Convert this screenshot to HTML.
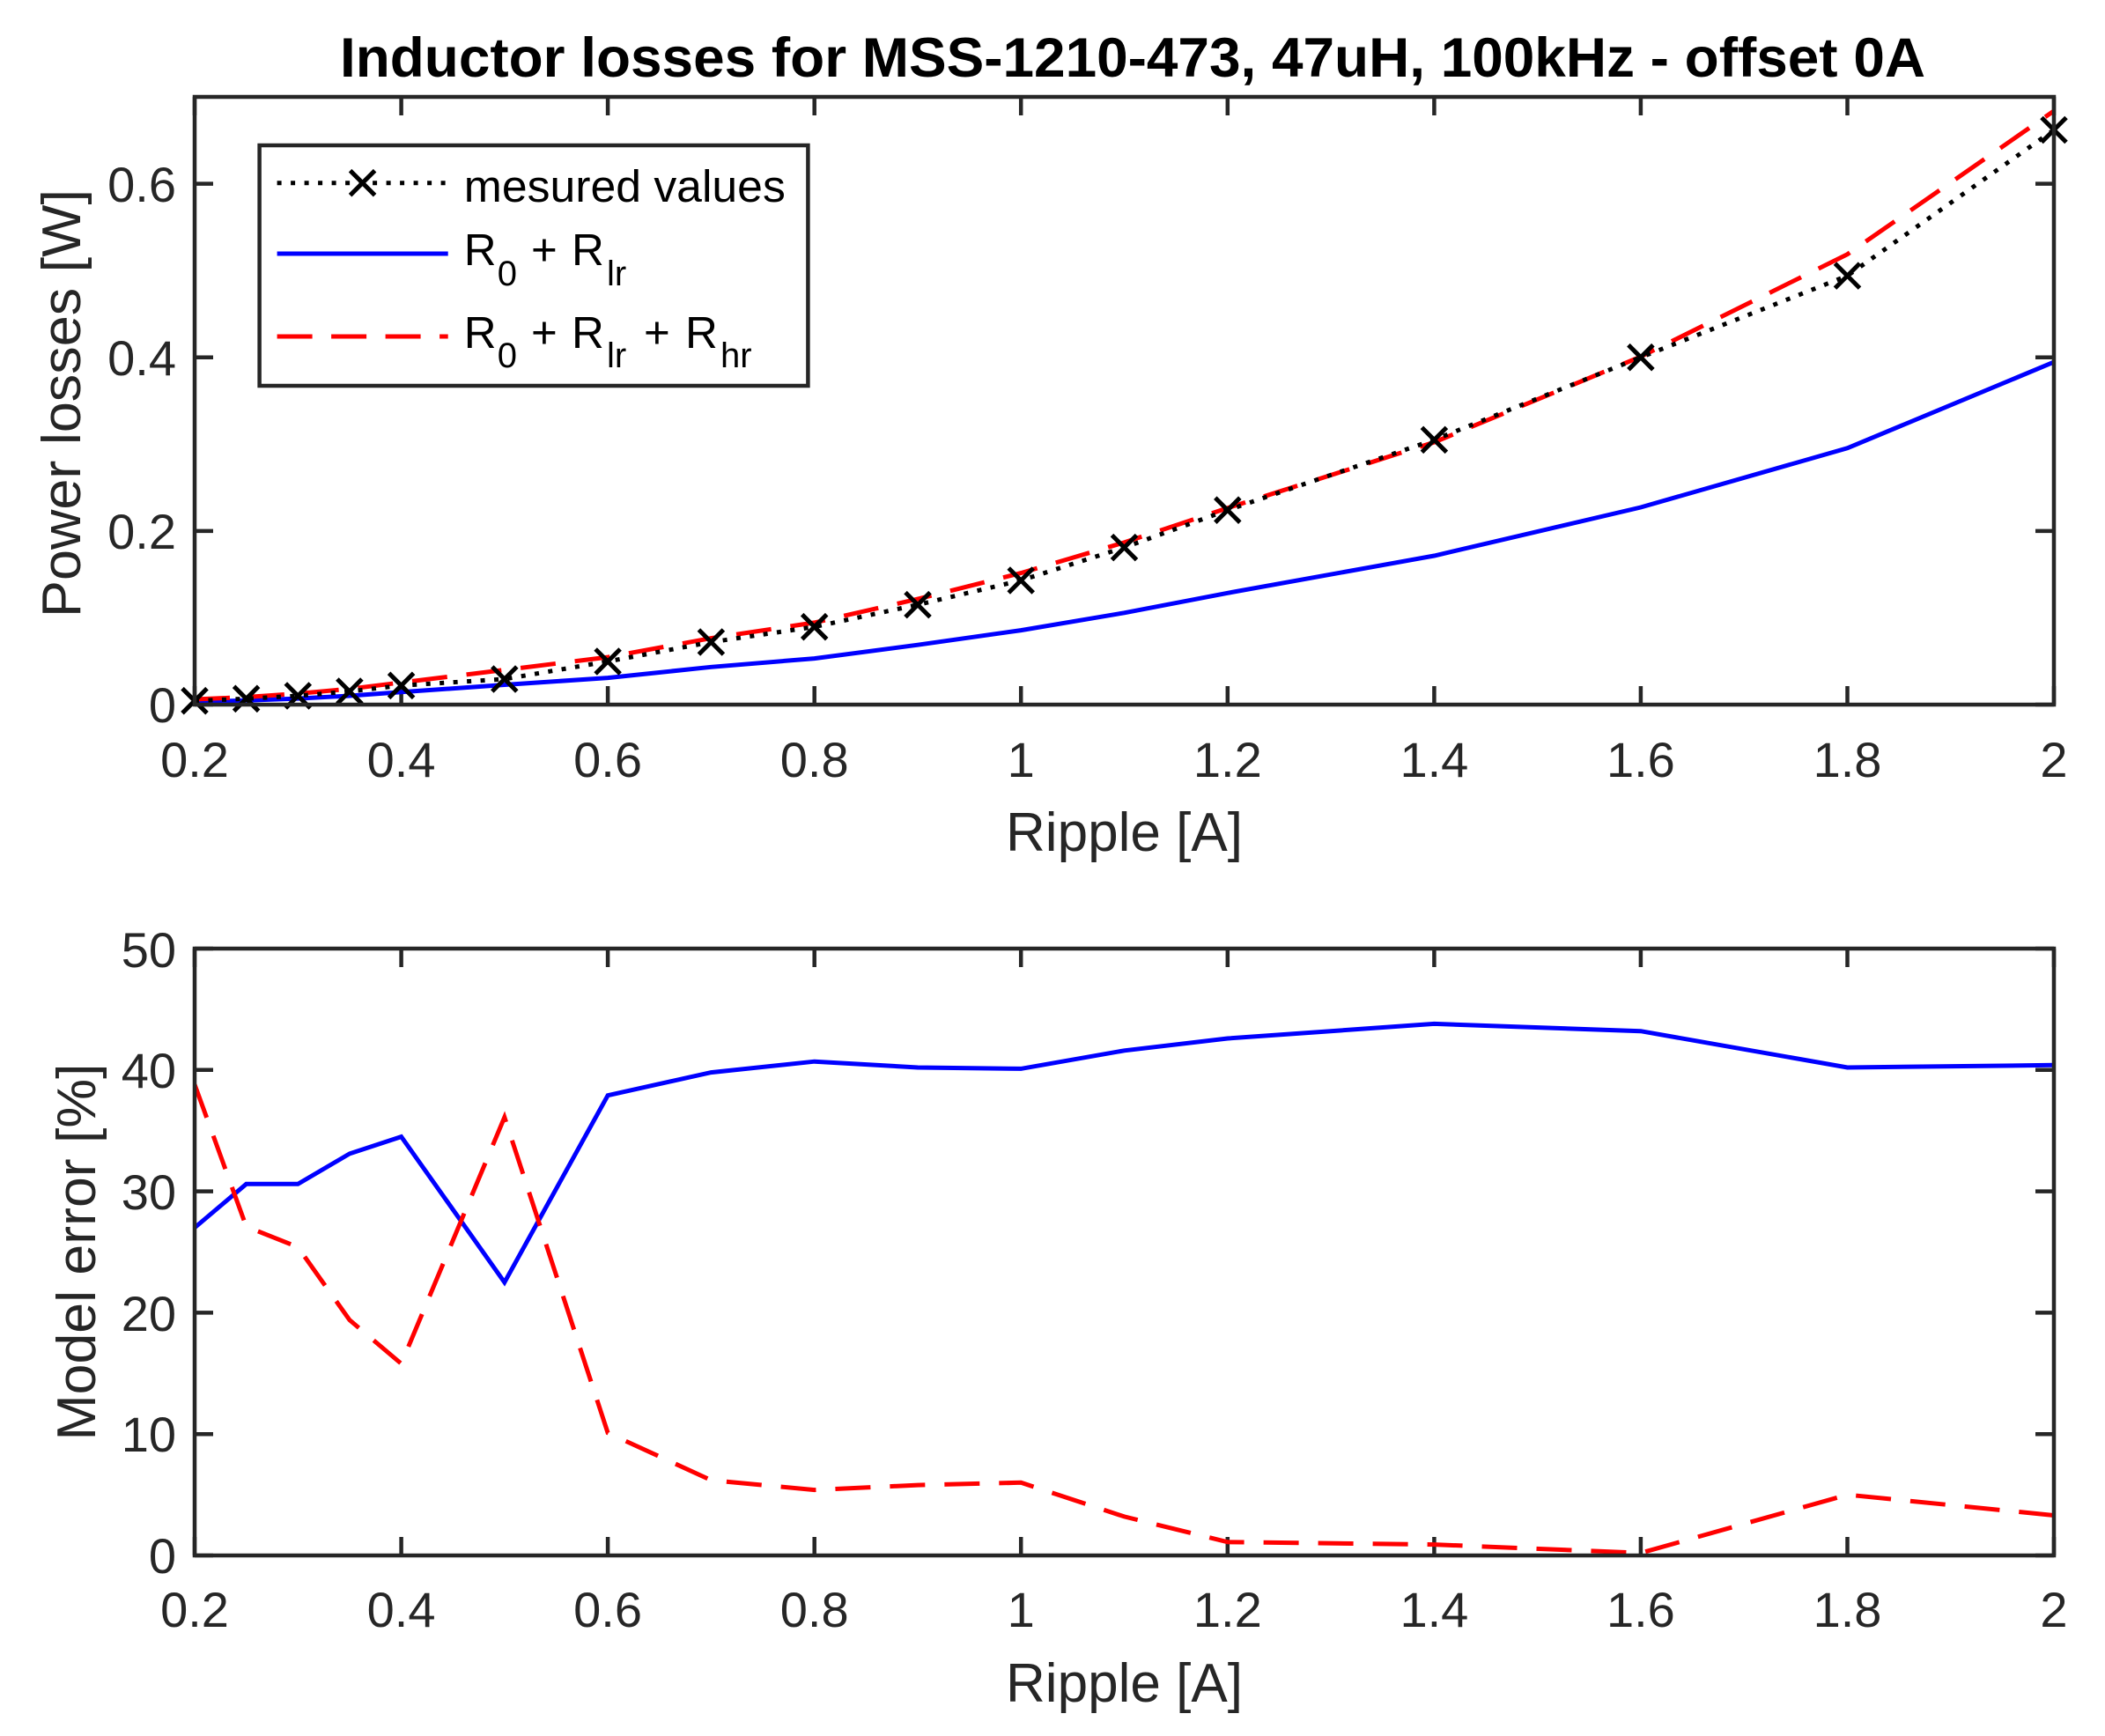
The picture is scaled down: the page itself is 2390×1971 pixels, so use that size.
<!DOCTYPE html>
<html>
<head>
<meta charset="utf-8">
<style>
  html, body { margin: 0; padding: 0; background: #ffffff; }
  svg { display: block; }
  text { font-family: "Liberation Sans", Arial, sans-serif; }
</style>
</head>
<body>
<svg xmlns="http://www.w3.org/2000/svg" width="2390" height="1971" viewBox="0 0 2390 1971">
  <defs>
    <clipPath id="c1"><rect x="221" y="110" width="2111" height="690"/></clipPath>
    <clipPath id="c2"><rect x="221" y="1077" width="2111" height="689"/></clipPath>
    <path id="mk" d="M-14,-14 L14,14 M-14,14 L14,-14" stroke="#000" stroke-width="5" fill="none"/>
  </defs>
  <rect width="2390" height="1971" fill="#fff"/>

  <!-- Title -->
  <text x="386" y="87" font-size="63" font-weight="bold" fill="#000" textLength="1800" lengthAdjust="spacingAndGlyphs">Inductor losses for MSS-1210-473, 47uH, 100kHz - offset 0A</text>

  <!-- ============ TOP AXES ============ -->
  <g stroke="#262626" stroke-width="4.5" fill="none">
    <path d="M221,800V779 M455.6,800V779 M690.1,800V779 M924.7,800V779 M1159.2,800V779 M1393.8,800V779 M1628.4,800V779 M1862.9,800V779 M2097.5,800V779 M2332,800V779
             M221,110V131 M455.6,110V131 M690.1,110V131 M924.7,110V131 M1159.2,110V131 M1393.8,110V131 M1628.4,110V131 M1862.9,110V131 M2097.5,110V131 M2332,110V131"/>
    <path d="M221,800H242 M221,602.9H242 M221,405.7H242 M221,208.6H242
             M2332,800H2311 M2332,602.9H2311 M2332,405.7H2311 M2332,208.6H2311"/>
  </g>

  <g clip-path="url(#c1)" fill="none" stroke-width="5">
    <polyline stroke="#0000ff" points="221,796.8 279.6,795.3 338.3,793.1 396.9,790.0 455.6,785.8 572.8,777.5 690.1,769.6 807.4,757.3 924.7,747.6 1042,732.2 1159.2,715.6 1276.5,695.8 1393.8,673.3 1628.4,631.0 1862.9,576.0 2097.5,508.8 2332,411.1"/>
    <polyline stroke="#ff0000" stroke-dasharray="40 22" points="221,794.0 279.6,791.5 338.3,787.5 396.9,782.1 455.6,774.9 572.8,760.6 690.1,746.1 807.4,724.6 924.7,706.9 1042,680.1 1159.2,650.6 1276.5,615.9 1393.8,576.8 1628.4,502.1 1862.9,404.9 2097.5,288.7 2332,125.9"/>
    <polyline stroke="#000000" stroke-dasharray="5 10.5" points="221,795.7 279.6,793.3 338.3,790.0 396.9,785.0 455.6,778.3 572.8,771.0 690.1,751.0 807.4,729.0 924.7,711.7 1042,686.6 1159.2,659.0 1276.5,621.6 1393.8,579.2 1628.4,499.4 1862.9,405.7 2097.5,313.1 2332,147.5"/>
  </g>
  <g>
    <use href="#mk" x="221" y="795.7"/>
    <use href="#mk" x="279.6" y="793.3"/>
    <use href="#mk" x="338.3" y="790.0"/>
    <use href="#mk" x="396.9" y="785.0"/>
    <use href="#mk" x="455.6" y="778.3"/>
    <use href="#mk" x="572.8" y="771.0"/>
    <use href="#mk" x="690.1" y="751.0"/>
    <use href="#mk" x="807.4" y="729.0"/>
    <use href="#mk" x="924.7" y="711.7"/>
    <use href="#mk" x="1042" y="686.6"/>
    <use href="#mk" x="1159.2" y="659.0"/>
    <use href="#mk" x="1276.5" y="621.6"/>
    <use href="#mk" x="1393.8" y="579.2"/>
    <use href="#mk" x="1628.4" y="499.4"/>
    <use href="#mk" x="1862.9" y="405.7"/>
    <use href="#mk" x="2097.5" y="313.1"/>
    <use href="#mk" x="2332" y="147.5"/>
  </g>

  <rect x="221" y="110" width="2111" height="690" fill="none" stroke="#262626" stroke-width="4.5"/>

  <g font-size="56" fill="#262626" text-anchor="middle">
    <text x="221" y="882">0.2</text>
    <text x="455.6" y="882">0.4</text>
    <text x="690.1" y="882">0.6</text>
    <text x="924.7" y="882">0.8</text>
    <text x="1159.2" y="882">1</text>
    <text x="1393.8" y="882">1.2</text>
    <text x="1628.4" y="882">1.4</text>
    <text x="1862.9" y="882">1.6</text>
    <text x="2097.5" y="882">1.8</text>
    <text x="2332" y="882">2</text>
  </g>
  <g font-size="56" fill="#262626" text-anchor="end">
    <text x="200" y="820">0</text>
    <text x="200" y="623">0.2</text>
    <text x="200" y="426">0.4</text>
    <text x="200" y="229">0.6</text>
  </g>
  <text x="1276.5" y="966" font-size="62" fill="#262626" text-anchor="middle" textLength="269" lengthAdjust="spacingAndGlyphs">Ripple [A]</text>
  <text transform="translate(91,458) rotate(-90)" x="0" y="0" font-size="62" fill="#262626" text-anchor="middle" textLength="486" lengthAdjust="spacingAndGlyphs">Power losses [W]</text>

  <!-- Legend -->
  <rect x="294.6" y="165" width="622.8" height="273" fill="#fff" stroke="#262626" stroke-width="4.5"/>
  <line x1="314.6" y1="207.7" x2="508.7" y2="207.7" stroke="#000" stroke-width="5" stroke-dasharray="5 10.5"/>
  <use href="#mk" x="411.6" y="207.7"/>
  <line x1="314.6" y1="288" x2="508.7" y2="288" stroke="#0000ff" stroke-width="5"/>
  <line x1="314.6" y1="382" x2="508.7" y2="382" stroke="#ff0000" stroke-width="5" stroke-dasharray="40 21.5"/>
  <g fill="#000">
    <text x="526.8" y="229" font-size="51" textLength="365" lengthAdjust="spacingAndGlyphs">mesured values</text>

    <text x="526.8" y="301" font-size="51">R</text>
    <text x="564.8" y="324" font-size="40">0</text>
    <text x="603" y="301" font-size="51">+</text>
    <text x="649" y="301" font-size="51">R</text>
    <text x="689" y="324" font-size="40">lr</text>

    <text x="526.8" y="395" font-size="51">R</text>
    <text x="564.8" y="417" font-size="40">0</text>
    <text x="603" y="395" font-size="51">+</text>
    <text x="649" y="395" font-size="51">R</text>
    <text x="689" y="417" font-size="40">lr</text>
    <text x="731" y="395" font-size="51">+</text>
    <text x="778" y="395" font-size="51">R</text>
    <text x="818" y="417" font-size="40">hr</text>
  </g>

  <!-- ============ BOTTOM AXES ============ -->
  <g stroke="#262626" stroke-width="4.5" fill="none">
    <path d="M221,1766V1745 M455.6,1766V1745 M690.1,1766V1745 M924.7,1766V1745 M1159.2,1766V1745 M1393.8,1766V1745 M1628.4,1766V1745 M1862.9,1766V1745 M2097.5,1766V1745 M2332,1766V1745
             M221,1077V1098 M455.6,1077V1098 M690.1,1077V1098 M924.7,1077V1098 M1159.2,1077V1098 M1393.8,1077V1098 M1628.4,1077V1098 M1862.9,1077V1098 M2097.5,1077V1098 M2332,1077V1098"/>
    <path d="M221,1766H242 M221,1628.2H242 M221,1490.4H242 M221,1352.6H242 M221,1214.8H242 M221,1077H242
             M2332,1766H2311 M2332,1628.2H2311 M2332,1490.4H2311 M2332,1352.6H2311 M2332,1214.8H2311 M2332,1077H2311"/>
  </g>

  <g clip-path="url(#c2)" fill="none" stroke-width="5">
    <polyline stroke="#0000ff" points="221,1393.9 279.6,1344.3 338.3,1344.3 396.9,1309.9 455.6,1290.6 572.8,1455.9 690.1,1243.7 807.4,1217.6 924.7,1205.2 1042,1212.0 1159.2,1213.4 1276.5,1192.8 1393.8,1179.0 1628.4,1162.4 1862.9,1170.7 2097.5,1212.0 2332,1209.3"/>
    <polyline stroke="#ff0000" stroke-dasharray="40 22" points="221,1231.3 279.6,1392.6 338.3,1416.0 396.9,1498.7 455.6,1548.3 572.8,1268.5 690.1,1626.8 807.4,1680.6 924.7,1691.6 1042,1686.1 1159.2,1683.3 1276.5,1721.9 1393.8,1750.8 1628.4,1753.6 1862.9,1763.2 2097.5,1697.1 2332,1720.5"/>
  </g>

  <rect x="221" y="1077" width="2111" height="689" fill="none" stroke="#262626" stroke-width="4.5"/>

  <g font-size="56" fill="#262626" text-anchor="middle">
    <text x="221" y="1847">0.2</text>
    <text x="455.6" y="1847">0.4</text>
    <text x="690.1" y="1847">0.6</text>
    <text x="924.7" y="1847">0.8</text>
    <text x="1159.2" y="1847">1</text>
    <text x="1393.8" y="1847">1.2</text>
    <text x="1628.4" y="1847">1.4</text>
    <text x="1862.9" y="1847">1.6</text>
    <text x="2097.5" y="1847">1.8</text>
    <text x="2332" y="1847">2</text>
  </g>
  <g font-size="56" fill="#262626" text-anchor="end">
    <text x="200" y="1786">0</text>
    <text x="200" y="1648">10</text>
    <text x="200" y="1511">20</text>
    <text x="200" y="1373">30</text>
    <text x="200" y="1235">40</text>
    <text x="200" y="1098">50</text>
  </g>
  <text x="1276.5" y="1932" font-size="62" fill="#262626" text-anchor="middle" textLength="269" lengthAdjust="spacingAndGlyphs">Ripple [A]</text>
  <text transform="translate(108,1421.5) rotate(-90)" x="0" y="0" font-size="62" fill="#262626" text-anchor="middle" textLength="428" lengthAdjust="spacingAndGlyphs">Model error [%]</text>
</svg>
</body>
</html>
